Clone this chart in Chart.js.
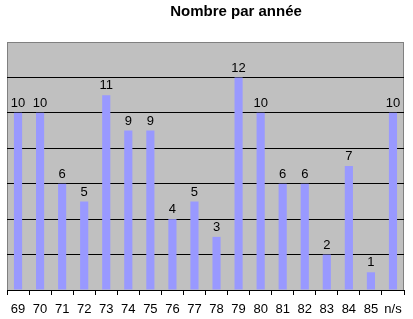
<!DOCTYPE html>
<html>
<head>
<meta charset="utf-8">
<script src="https://cdn.jsdelivr.net/npm/chart.js@4/dist/chart.umd.min.js"></script>
<style>
  html, body { margin: 0; padding: 0; background: #fff; }
  #wrap { width: 413px; height: 319px; }
</style>
</head>
<body>
<div id="wrap"><canvas id="canva1" width="413" height="319"></canvas></div>
<script>
const years = ['69', '70', '71', '72', '73', '74', '75', '76', '77', '78', '79', '80', '81', '82', '83', '84', '85', 'n/s'];
const counts = [10, 10, 6, 5, 11, 9, 9, 4, 5, 3, 12, 10, 6, 6, 2, 7, 1, 10];
const titleText = 'Nombre par année';

const fontFamily = 'Arial, "Liberation Sans", sans-serif';
const barColor = '#9999ff';
const plotBg = '#c0c0c0';

// gray plot area with border
const plotBackground = {
    id: 'plotBackground',
    beforeDraw(chart) {
        const { ctx, chartArea: a } = chart;
        ctx.save();
        ctx.fillStyle = plotBg;
        ctx.fillRect(a.left, a.top, a.right - a.left, a.bottom - a.top);
        ctx.strokeStyle = '#808080';
        ctx.lineWidth = 1;
        ctx.strokeRect(a.left + 0.5, a.top + 0.5, a.right - a.left - 1, a.bottom - a.top);
        ctx.restore();
    }
};

// value above each bar + title slightly off centre
const labelsAndTitle = {
    id: 'labelsAndTitle',
    afterDatasetsDraw(chart) {
        const ctx = chart.ctx;
        ctx.save();
        ctx.fillStyle = '#000';
        ctx.font = '13px ' + fontFamily;
        ctx.textAlign = 'center';
        ctx.textBaseline = 'bottom';
        chart.getDatasetMeta(0).data.forEach((bar, i) => {
            ctx.fillText(String(counts[i]), bar.x, bar.y - 3);
        });
        ctx.font = 'bold 15px ' + fontFamily;
        ctx.textBaseline = 'middle';
        ctx.fillText(titleText, 236, 12);
        ctx.restore();
    }
};

const config = {
    type: 'bar',
    data: {
        labels: years,
        datasets: [{
            data: counts,
            backgroundColor: barColor,
            borderWidth: 0,
            categoryPercentage: 1,
            barPercentage: 0.37,
        }]
    },
    options: {
        responsive: false,
        animation: false,
        layout: { padding: { left: 7, right: 9, top: 42, bottom: 0 } },
        scales: {
            y: {
                min: 0,
                max: 14,
                ticks: { display: false, stepSize: 2 },
                border: { display: false },
                grid: {
                    drawTicks: false,
                    color: c => (c.tick.value === 14 ? 'rgba(0,0,0,0)' : '#000'),
                    lineWidth: 1,
                }
            },
            x: {
                afterFit: s => { s.height = 29; },
                border: { display: true, color: '#000' },
                grid: {
                    offset: true,
                    drawOnChartArea: false,
                    color: '#000',
                    tickLength: 5,
                },
                ticks: {
                    color: '#000',
                    padding: 7,
                    maxRotation: 0,
                    autoSkip: false,
                    font: { family: fontFamily, size: 13 }
                }
            }
        },
        plugins: {
            legend: { display: false },
            tooltip: { enabled: false },
            title: { display: false },
        }
    },
    plugins: [plotBackground, labelsAndTitle]
};

window.onload = () => {
    new Chart(document.getElementById('canva1').getContext('2d'), config);
};
</script>
</body>
</html>
